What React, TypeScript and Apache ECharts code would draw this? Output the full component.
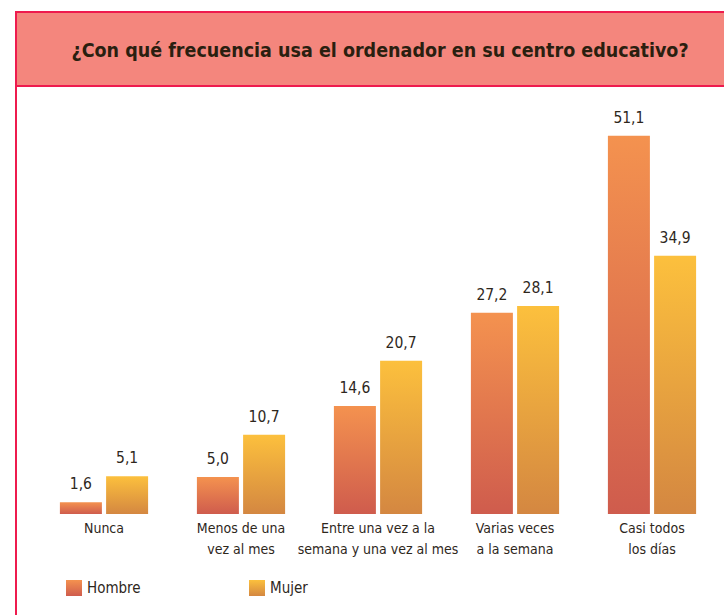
import React, { useEffect, useRef } from "react";
import * as echarts from "echarts";

const categories = [
  "Nunca",
  "Menos de una\nvez al mes",
  "Entre una vez a la\nsemana y una vez al mes",
  "Varias veces\na la semana",
  "Casi todos\nlos días",
];
const hombre = [1.6, 5.0, 14.6, 27.2, 51.1];
const mujer = [5.1, 10.7, 20.7, 28.1, 34.9];
const titleText = "¿Con qué frecuencia usa el ordenador en su centro educativo?";

const FONT = "'DejaVu Sans Condensed', 'Liberation Sans Narrow', 'Noto Sans', sans-serif";
const TEXT = "#2e271c";

export default function App() {
  const ref = useRef<HTMLDivElement>(null);
  useEffect(() => {
    if (!ref.current) return;
    const chart = echarts.init(ref.current, null, { renderer: "svg" });
    const gradH = new echarts.graphic.LinearGradient(0, 0, 0, 1, [
      { offset: 0, color: "#F4924F" },
      { offset: 1, color: "#CF5C4D" },
    ]);
    const gradM = new echarts.graphic.LinearGradient(0, 0, 0, 1, [
      { offset: 0, color: "#FCC03D" },
      { offset: 1, color: "#D48741" },
    ]);
    const fmt = (p: any) => Number(p.value).toFixed(1).replace(".", ",");
    const labelStyle = {
      show: true,
      position: "top",
      distance: 10,
      formatter: fmt,
      fontFamily: FONT,
      fontSize: 15.5,
      color: TEXT,
    };
    chart.setOption({
      animation: false,
      backgroundColor: "#ffffff",
      graphic: [
        {
          type: "rect",
          shape: { x: 16, y: 12, width: 720, height: 74 },
          style: { fill: "#F4867D", stroke: "#EE1B4E", lineWidth: 2 },
          z: 0,
        },
        {
          type: "line",
          shape: { x1: 16, y1: 86, x2: 16, y2: 615 },
          style: { stroke: "#EE1B4E", lineWidth: 2 },
        },
        {
          type: "text",
          x: 380,
          y: 50,
          style: {
            text: titleText,
            fill: "#2a1f10",
            font: `bold 19.5px ${FONT}`,
            textAlign: "center",
            textVerticalAlign: "middle",
          },
        },
      ],
      legend: [
        {
          data: ["Hombre"],
          left: 61,
          top: 575,
          itemWidth: 16,
          itemHeight: 16,
          itemGap: 8,
          textStyle: { fontFamily: FONT, fontSize: 15, color: TEXT },
          icon: "rect",
        },
        {
          data: ["Mujer"],
          left: 244,
          top: 575,
          itemWidth: 16,
          itemHeight: 16,
          textStyle: { fontFamily: FONT, fontSize: 15, color: TEXT },
          icon: "rect",
        },
      ],
      grid: { left: 35.5, right: 3.5, top: 107, bottom: 101 },
      xAxis: {
        type: "category",
        data: categories,
        axisLine: { show: false },
        axisTick: { show: false },
        axisLabel: {
          interval: 0,
          fontFamily: FONT,
          fontSize: 14,
          color: TEXT,
          lineHeight: 21,
          margin: 3,
        },
      },
      yAxis: {
        type: "value",
        min: 0,
        max: 55,
        show: false,
        splitLine: { show: false },
      },
      series: [
        {
          name: "Hombre",
          type: "bar",
          data: hombre,
          barWidth: 42,
          barGap: "10%",
          itemStyle: { color: gradH },
          label: labelStyle,
        },
        {
          name: "Mujer",
          type: "bar",
          data: mujer,
          barWidth: 42,
          barGap: "10%",
          itemStyle: { color: gradM },
          label: labelStyle,
        },
      ],
    });
    return () => chart.dispose();
  }, []);
  return (
    <div
      ref={ref}
      style={{ position: "fixed", left: 0, top: 0, width: 724, height: 615 }}
    />
  );
}
